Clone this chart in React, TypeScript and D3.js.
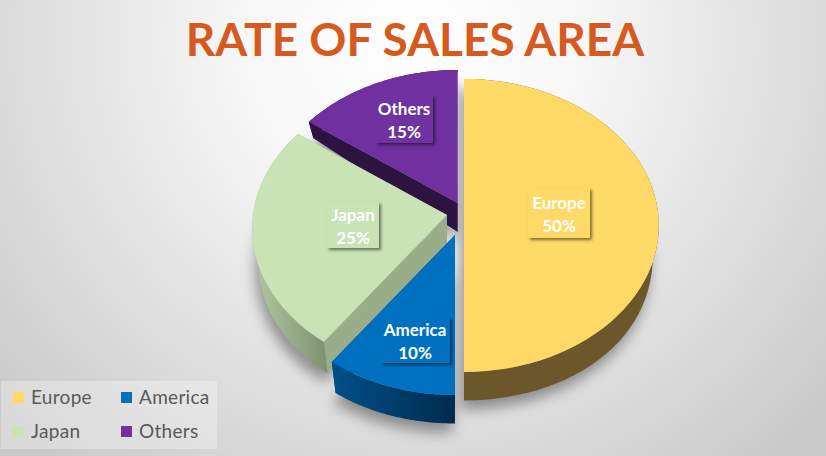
import React, { useRef, useEffect } from 'react';
import * as d3 from 'd3';

const categories = ['Europe', 'America', 'Japan', 'Others'];
const shares = [50, 10, 25, 15];

const topColors = ['#ffd966', '#0070c0', '#c9e2b6', '#7030a0'];
const wallColors = [
    ['#6b572a', '#6b572a'],
    ['#00508a', '#002b4e'],
    ['#b2c9a3', '#7d9170'],
    ['#2c1340', '#2c1340'],
];
const radialWallColors = ['#6b572a', '#003a66', '#9aad8a', '#2c1340'];

// exploded slice tips on the top face
const apex = [[464, 212], [455, 235], [447, 215], [457.7, 203]];
const labelBoxes = [
    { x: 528, y: 188, w: 62, h: 50 },
    { x: 380, y: 317, w: 70, h: 46 },
    { x: 327, y: 202, w: 52, h: 46 },
    { x: 375, y: 95, w: 58, h: 48 },
];

const width = 826;
const height = 456;
const depth = 29;
const tilt = 0.092;

type Pt = [number, number];

// top face has perspective, bottom face is a flatter ellipse
const topPoint = (c: number[], a: number): Pt => {
    const X = Math.sin(a);
    const Y = -Math.cos(a);
    const s = 1 / (1 - tilt * Y);
    return [c[0] + X * 194 * s, c[1] + Y * 145.3 * s];
};
const bottomPoint = (c: number[], a: number): Pt => {
    const X = Math.sin(a);
    const Y = -Math.cos(a);
    const s = 1 / (1 - tilt * Y);
    return [c[0] + X * 188 * s, c[1] + depth + Y * 159.5];
};

const App = () => {
    const svgRef = useRef<SVGSVGElement | null>(null);

    useEffect(() => {
        const svg = d3.select(svgRef.current);
        svg.selectAll('*').remove();

        const defs = svg.append('defs');

        const bg = defs.append('radialGradient').attr('id', 'bg')
            .attr('gradientUnits', 'userSpaceOnUse')
            .attr('cx', 413).attr('cy', 40).attr('r', 560);
        bg.append('stop').attr('offset', '0%').attr('stop-color', '#ffffff');
        bg.append('stop').attr('offset', '30%').attr('stop-color', '#f7f7f7');
        bg.append('stop').attr('offset', '100%').attr('stop-color', '#c9c9c9');

        wallColors.forEach((c, i) => {
            const g = defs.append('linearGradient').attr('id', `wall${i}`);
            g.append('stop').attr('offset', '0%').attr('stop-color', c[0]);
            g.append('stop').attr('offset', '100%').attr('stop-color', c[1]);
        });

        const blur = defs.append('filter').attr('id', 'pieShadow')
            .attr('x', '-20%').attr('y', '-20%').attr('width', '140%').attr('height', '140%');
        blur.append('feGaussianBlur').attr('stdDeviation', 7);

        const boxShadow = defs.append('filter').attr('id', 'boxShadow')
            .attr('x', '-20%').attr('y', '-20%').attr('width', '150%').attr('height', '150%');
        boxShadow.append('feDropShadow')
            .attr('dx', 2).attr('dy', 2).attr('stdDeviation', 1.6)
            .attr('flood-color', '#000').attr('flood-opacity', 0.5);

        svg.append('rect').attr('width', width).attr('height', height).attr('fill', 'url(#bg)');

        // Title
        svg.append('text')
            .attr('x', 415)
            .attr('y', 56)
            .attr('text-anchor', 'middle')
            .attr('font-family', 'Lato')
            .attr('font-weight', 700)
            .attr('font-size', 46)
            .attr('fill', '#d65a20')
            .text('RATE OF SALES AREA');

        const pie = d3.pie<number>().sort(null);
        const arcs = pie(shares);
        const line = d3.line();
        const arcAngles = (a0: number, a1: number) =>
            d3.range(0, 61).map((k) => a0 + ((a1 - a0) * k) / 60);

        const shape = (i: number) => {
            const { startAngle: a0, endAngle: a1 } = arcs[i];
            return arcAngles(a0, a1);
        };

        // Shadow under the whole pie
        const shadow = svg.append('g')
            .attr('filter', 'url(#pieShadow)')
            .attr('transform', 'translate(-3,9)')
            .attr('fill', '#000')
            .attr('fill-opacity', 0.38);
        arcs.forEach((_, i) => {
            const c = apex[i];
            const pts: Pt[] = [[c[0], c[1] + depth], ...shape(i).map((a) => bottomPoint(c, a))];
            shadow.append('path').attr('d', `${line(pts)}Z`);
        });

        // Slices, far ones first
        const order = [0, 3, 2, 1];
        const slices = svg.append('g');
        order.forEach((i) => {
            const c = apex[i];
            const { startAngle: a0, endAngle: a1 } = arcs[i];
            const g = slices.append('g');

            [a0, a1].forEach((a) => {
                const pts: Pt[] = [
                    [c[0], c[1]],
                    topPoint(c, a),
                    bottomPoint(c, a),
                    [c[0], c[1] + depth],
                ];
                g.append('path').attr('d', `${line(pts)}Z`).attr('fill', radialWallColors[i]);
            });

            const angles = shape(i);
            const wall: Pt[] = [
                ...angles.map((a) => topPoint(c, a)),
                ...angles.slice().reverse().map((a) => bottomPoint(c, a)),
            ];
            g.append('path').attr('d', `${line(wall)}Z`).attr('fill', `url(#wall${i})`);

            const top: Pt[] = [[c[0], c[1]], ...angles.map((a) => topPoint(c, a))];
            g.append('path').attr('d', `${line(top)}Z`).attr('fill', topColors[i]);
        });

        // Data labels
        categories.forEach((name, i) => {
            const b = labelBoxes[i];
            const g = svg.append('g');
            g.append('rect')
                .attr('x', b.x).attr('y', b.y).attr('width', b.w).attr('height', b.h)
                .attr('fill', topColors[i])
                .attr('filter', 'url(#boxShadow)');
            const t = g.append('text')
                .attr('text-anchor', 'middle')
                .attr('font-family', 'Lato')
                .attr('font-weight', 700)
                .attr('font-size', 17)
                .attr('fill', '#ffffff');
            t.append('tspan').attr('x', b.x + b.w / 2).attr('y', b.y + b.h / 2 - 4).text(name);
            t.append('tspan').attr('x', b.x + b.w / 2).attr('y', b.y + b.h / 2 + 19).text(`${shares[i]}%`);
        });

        // Legend
        const legend = svg.append('g').attr('transform', 'translate(1,381)');
        legend.append('rect')
            .attr('width', 216).attr('height', 68)
            .attr('fill', '#ffffff').attr('fill-opacity', 0.3);
        const item = legend.selectAll('g')
            .data(categories)
            .join('g')
            .attr('transform', (d, i) => `translate(${i % 2 ? 120 : 12},${i < 2 ? 11 : 45})`);
        item.append('rect')
            .attr('width', 11).attr('height', 11)
            .attr('fill', (d, i) => topColors[i]);
        item.append('text')
            .attr('x', 18)
            .attr('y', 12)
            .attr('font-family', 'Lato')
            .attr('font-size', 19)
            .attr('letter-spacing', 0.3)
            .attr('fill', '#595959')
            .text((d) => d);
    }, []);

    return (
        <svg
            ref={svgRef}
            width={width}
            height={height}
            style={{ position: 'absolute', left: 0, top: 0 }}
        ></svg>
    );
};

export default App;
